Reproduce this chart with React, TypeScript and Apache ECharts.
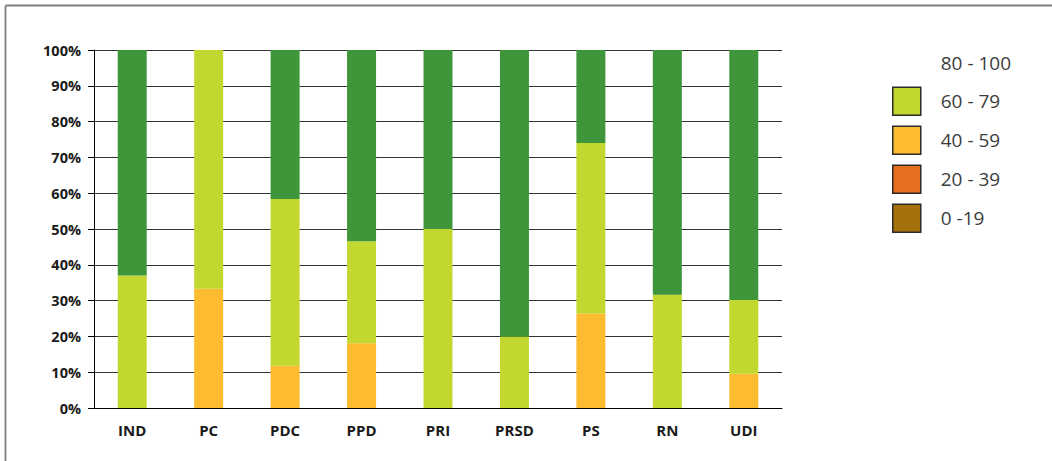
import React, { useEffect, useRef } from "react";
import * as echarts from "echarts";

const categories = ["IND", "PC", "PDC", "PPD", "PRI", "PRSD", "PS", "RN", "UDI"];
const s0to19 = [0, 0, 0, 0, 0, 0, 0, 0, 0];
const s20to39 = [0, 0, 0, 0, 0, 0, 0, 0, 0];
const s40to59 = [0, 33.3, 11.8, 18.1, 0, 0, 26.4, 0, 9.6];
const s60to79 = [37.0, 66.7, 46.6, 28.5, 50.0, 20.0, 47.6, 31.6, 20.6];
const s80to100 = [63.0, 0, 41.6, 53.4, 50.0, 80.0, 26.0, 68.4, 69.8];
const legendNames = ["80 - 100", "60 - 79", "40 - 59", "20 - 39", "0 -19"];
const yTicks = [0, 10, 20, 30, 40, 50, 60, 70, 80, 90, 100];

const COLORS: Record<string, string> = {
  "80 - 100": "#3f963a",
  "60 - 79": "#c2d72f",
  "40 - 59": "#fdbb2f",
  "20 - 39": "#e56e1f",
  "0 -19": "#a5700a",
};

export default function App() {
  const ref = useRef<HTMLDivElement>(null);
  useEffect(() => {
    if (!ref.current) return;
    const chart = echarts.init(ref.current, null, { renderer: "svg" });
    const seriesDefs: [string, number[]][] = [
      ["0 -19", s0to19],
      ["20 - 39", s20to39],
      ["40 - 59", s40to59],
      ["60 - 79", s60to79],
      ["80 - 100", s80to100],
    ];
    chart.setOption({
      animation: false,
      backgroundColor: "#ffffff",
      grid: { left: 94, top: 50, right: 270, bottom: 53 },
      legend: {
        orient: "vertical",
        left: 892,
        top: 49,
        padding: 0,
        itemWidth: 28,
        itemHeight: 28,
        itemGap: 9.5,
        icon: "rect",
        textStyle: {
          fontFamily: "Open Sans",
          fontSize: 19,
          color: "#3c3c3c",
          padding: [0, 0, 0, 15],
        },
        data: legendNames.map((n) =>
          n === "80 - 100"
            ? { name: n, itemStyle: { color: "rgba(0,0,0,0)", borderWidth: 0 } }
            : { name: n, itemStyle: { color: COLORS[n], borderColor: "#2b2b2b", borderWidth: 1.5 } }
        ),
      },
      xAxis: {
        type: "category",
        data: categories,
        axisLine: { lineStyle: { color: "#000", width: 1 } },
        axisTick: { length: 7, lineStyle: { color: "#000" } },
        axisLabel: {
          margin: 14,
          fontFamily: "Open Sans",
          fontWeight: "bold",
          fontSize: 15,
          color: "#1a1a1a",
        },
      },
      yAxis: {
        type: "value",
        min: yTicks[0],
        max: yTicks[yTicks.length - 1],
        interval: 10,
        axisLine: { show: true, lineStyle: { color: "#000", width: 1 } },
        axisTick: { show: true, length: 6, lineStyle: { color: "#000" } },
        axisLabel: {
          margin: 13,
          formatter: "{value}%",
          fontFamily: "Open Sans",
          fontWeight: "bold",
          fontSize: 14.5,
          color: "#1a1a1a",
        },
        splitLine: { show: true, lineStyle: { color: "#333333", width: 1.2 } },
      },
      graphic: [
        {
          type: "line",
          shape: { x1: 5.5, y1: 5.5, x2: 1052, y2: 5.5 },
          style: { stroke: "#7f7f7f", lineWidth: 1.8 },
        },
        {
          type: "line",
          shape: { x1: 5.5, y1: 5.5, x2: 5.5, y2: 461 },
          style: { stroke: "#7f7f7f", lineWidth: 1.8 },
        },
      ],
      series: seriesDefs.map(([name, data]) => ({
        name,
        type: "bar",
        stack: "total",
        barWidth: 29,
        data,
        itemStyle: { color: COLORS[name] },
      })),
    });
    return () => chart.dispose();
  }, []);
  return (
    <div
      ref={ref}
      style={{ position: "fixed", left: 0, top: 0, width: 1052, height: 461 }}
    />
  );
}
